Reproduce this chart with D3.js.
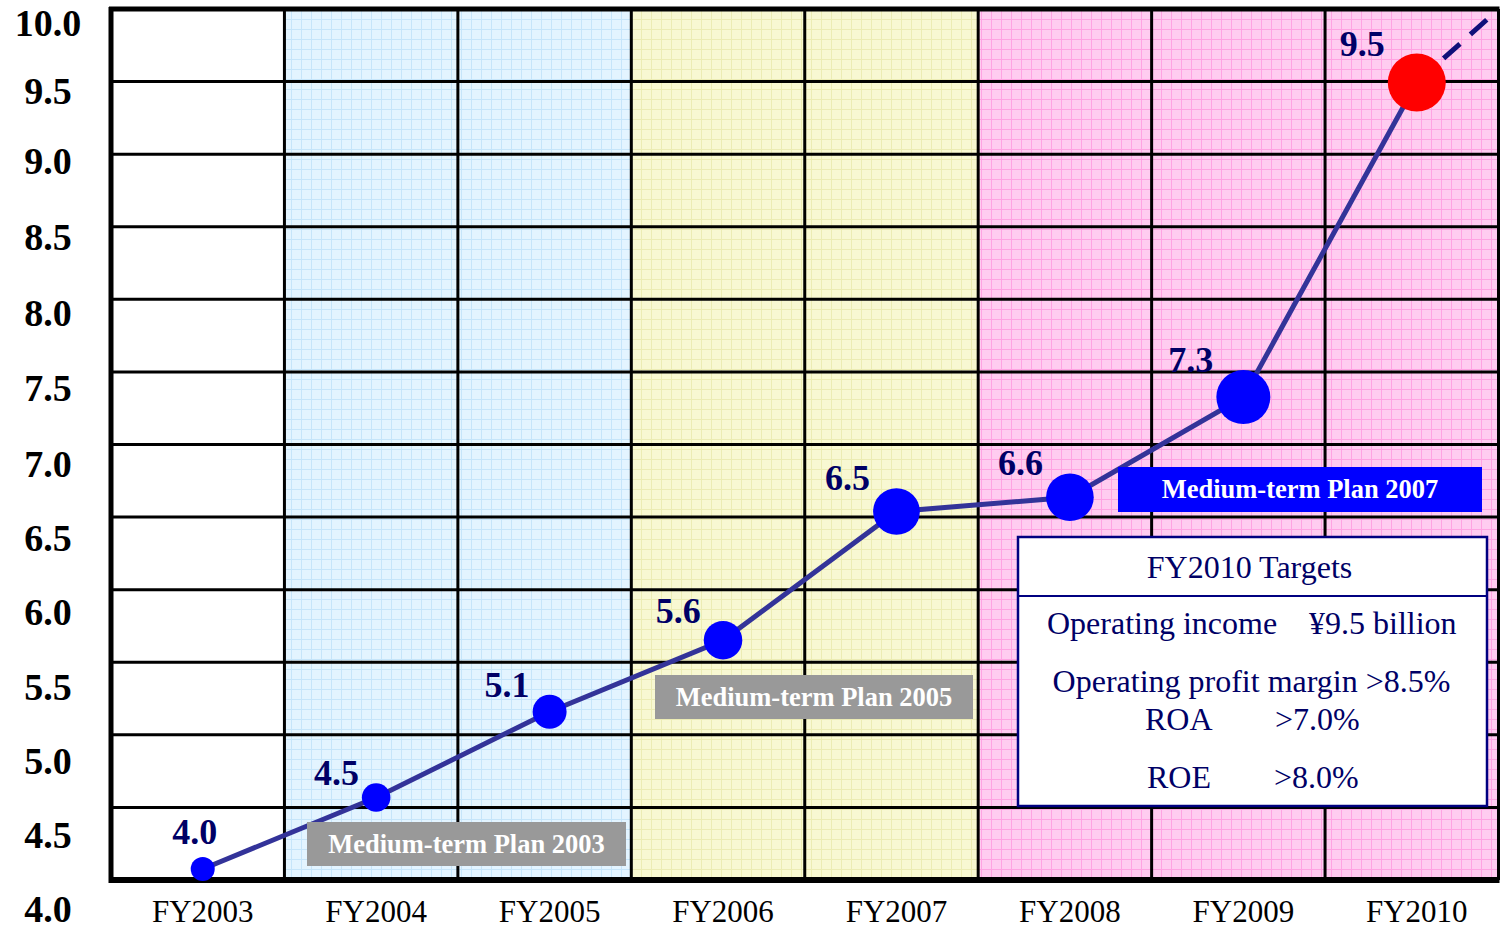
<!DOCTYPE html>
<html>
<head>
<meta charset="utf-8">
<script src="https://cdn.jsdelivr.net/npm/d3@7"></script>
<style>
  body { margin: 0; background: #fff; }
  svg { display: block; font-family: 'Liberation Serif', 'Times New Roman', serif; }
</style>
</head>
<body>
<svg id="chart"></svg>
<script>
// Data (operating income, billions of yen)
const years = ['FY2003', 'FY2004', 'FY2005', 'FY2006', 'FY2007', 'FY2008', 'FY2009', 'FY2010'];
const income = [4.0, 4.5, 5.1, 5.6, 6.5, 6.6, 7.3, 9.5];
const yTickValues = [4.0, 4.5, 5.0, 5.5, 6.0, 6.5, 7.0, 7.5, 8.0, 8.5, 9.0, 9.5, 10.0];
const trendEnd = 10.0;

const planNames = ['Medium-term Plan 2003', 'Medium-term Plan 2005', 'Medium-term Plan 2007'];
const planStart = ['FY2004', 'FY2006', 'FY2008'];
const planEnd = ['FY2005', 'FY2007', 'FY2010'];

const targetTitle = 'FY2010 Targets';
const targetItems = ['Operating income', 'Operating profit margin', 'ROA', 'ROE'];
const targetValues = ['¥9.5 billion', '>8.5%', '>7.0%', '>8.0%'];

// Layout
const width = 1500, height = 929;
const plot = {left: 111, right: 1498.5, top: 9, bottom: 880};
const navy = '#000066';

const svg = d3.select('#chart')
    .attr('width', width)
    .attr('height', height);

// Scales
const x = d3.scaleBand().domain(years).range([plot.left, plot.right]);
const yGrid = d3.scaleLinear().domain([4, 10]).range([plot.bottom, plot.top]);
const yValue = d3.scaleLinear().domain([4, 10]).range([869, 11]);
// the tick labels in the original are typed text, not quite evenly spaced
const yLabel = d3.scaleLinear().domain([4, 7, 9, 9.5, 10]).range([922, 477, 174, 104, 36]);
const rScale = d3.scaleLinear().domain([4, 7.3, 9.5]).range([12, 27, 29]);
const cx = d => x(d) + x.bandwidth() / 2 + 5;

// Background patterns for each plan period
const patColors = [
  {bg: '#e3f4ff', line: '#c6e5fa'},
  {bg: '#f8f8d2', line: '#ececb4'},
  {bg: '#ffccf0', line: '#ffa3e2'}
];
const defs = svg.append('defs');
patColors.forEach((c, i) => {
  const p = defs.append('pattern')
      .attr('id', 'pat' + i)
      .attr('patternUnits', 'userSpaceOnUse')
      .attr('width', 10).attr('height', 10)
      .attr('x', plot.left).attr('y', plot.top);
  p.append('rect').attr('width', 10).attr('height', 10).attr('fill', c.bg);
  p.append('path').attr('d', 'M0,0.5H10M0.5,0V10')
      .attr('stroke', c.line).attr('stroke-width', 1).attr('fill', 'none');
});

svg.append('rect')
    .attr('x', plot.left).attr('y', plot.top)
    .attr('width', plot.right - plot.left).attr('height', plot.bottom - plot.top)
    .attr('fill', '#fff');

svg.selectAll('.period')
    .data(planNames)
  .join('rect')
    .attr('class', 'period')
    .attr('x', (d, i) => x(planStart[i]))
    .attr('y', plot.top)
    .attr('width', (d, i) => x(planEnd[i]) + x.bandwidth() - x(planStart[i]))
    .attr('height', plot.bottom - plot.top)
    .attr('fill', (d, i) => `url(#pat${i})`);

// Grid lines
svg.selectAll('.vgrid')
    .data(years.slice(1))
  .join('line')
    .attr('class', 'vgrid')
    .attr('x1', d => x(d)).attr('x2', d => x(d))
    .attr('y1', plot.top).attr('y2', plot.bottom)
    .attr('stroke', '#000').attr('stroke-width', 3);

svg.selectAll('.hgrid')
    .data(yTickValues.slice(1, -1))
  .join('line')
    .attr('class', 'hgrid')
    .attr('x1', plot.left).attr('x2', plot.right)
    .attr('y1', d => yGrid(d)).attr('y2', d => yGrid(d))
    .attr('stroke', '#000').attr('stroke-width', 3);

// Frame
const frame = svg.append('g').attr('stroke', '#000');
frame.append('line').attr('x1', plot.left - 2).attr('x2', plot.right + 1)
    .attr('y1', plot.top).attr('y2', plot.top).attr('stroke-width', 5);
frame.append('line').attr('x1', plot.left).attr('x2', plot.left)
    .attr('y1', plot.top - 2).attr('y2', plot.bottom + 3).attr('stroke-width', 5);
frame.append('line').attr('x1', plot.right).attr('x2', plot.right)
    .attr('y1', plot.top).attr('y2', plot.bottom).attr('stroke-width', 3);
frame.append('line').attr('x1', plot.left - 2).attr('x2', plot.right + 1)
    .attr('y1', plot.bottom).attr('y2', plot.bottom).attr('stroke-width', 6);

// Y axis labels
svg.selectAll('.ylab')
    .data(yTickValues)
  .join('text')
    .attr('class', 'ylab')
    .attr('x', 48)
    .attr('y', d => yLabel(d))
    .attr('text-anchor', 'middle')
    .attr('font-size', 38)
    .attr('font-weight', 'bold')
    .attr('fill', '#000')
    .text(d => d.toFixed(1));

// X axis labels
svg.selectAll('.xlab')
    .data(years)
  .join('text')
    .attr('class', 'xlab')
    .attr('x', d => cx(d))
    .attr('y', 922)
    .attr('text-anchor', 'middle')
    .attr('font-size', 31)
    .attr('fill', '#000')
    .text(d => d);

// Line
const line = d3.line()
    .x((d, i) => cx(years[i]))
    .y(d => yValue(d));

svg.append('path')
    .datum(income)
    .attr('d', line)
    .attr('fill', 'none')
    .attr('stroke', '#333399')
    .attr('stroke-width', 5);

// Dashed projection beyond FY2010
const last = income.length - 1;
svg.append('line')
    .attr('x1', cx(years[last])).attr('y1', yValue(income[last]))
    .attr('x2', plot.right - 2).attr('y2', yValue(trendEnd))
    .attr('stroke', '#10107a')
    .attr('stroke-width', 5)
    .attr('stroke-dasharray', '22,14');

// Plan label boxes
const planBoxes = [
  {x0: 307, x1: 626, y: 822, h: 44, fill: '#999999'},
  {x0: 655, x1: 973, y: 675, h: 44, fill: '#999999'},
  {x0: 1118, x1: 1482, y: 467, h: 45, fill: '#0000ff'}
];
const pg = svg.selectAll('.plan')
    .data(planNames)
  .join('g')
    .attr('class', 'plan');
pg.append('rect')
    .attr('x', (d, i) => planBoxes[i].x0)
    .attr('y', (d, i) => planBoxes[i].y)
    .attr('width', (d, i) => planBoxes[i].x1 - planBoxes[i].x0)
    .attr('height', (d, i) => planBoxes[i].h)
    .attr('fill', (d, i) => planBoxes[i].fill);
pg.append('text')
    .attr('x', (d, i) => (planBoxes[i].x0 + planBoxes[i].x1) / 2)
    .attr('y', (d, i) => planBoxes[i].y + 31)
    .attr('text-anchor', 'middle')
    .attr('font-size', 26.5)
    .attr('font-weight', 'bold')
    .attr('fill', '#fff')
    .text(d => d);

// Points
svg.selectAll('.point')
    .data(income)
  .join('circle')
    .attr('class', 'point')
    .attr('cx', (d, i) => cx(years[i]))
    .attr('cy', d => yValue(d))
    .attr('r', d => rScale(d))
    .attr('fill', (d, i) => i === last ? '#ff0000' : '#0000ff');

// Value labels
svg.selectAll('.vlab')
    .data(income)
  .join('text')
    .attr('class', 'vlab')
    .attr('x', (d, i) => i === 0 ? cx(years[i]) - 8 : cx(years[i]) - rScale(d) - 3)
    .attr('y', (d, i) => i === 0 ? yValue(d) - rScale(d) - 13 : yValue(d) - rScale(d) + 2)
    .attr('text-anchor', (d, i) => i === 0 ? 'middle' : 'end')
    .attr('font-size', 36)
    .attr('font-weight', 'bold')
    .attr('fill', navy)
    .text(d => d.toFixed(1));

// Targets box
const tb = {x: 1018, y: 537, w: 469, h: 269, divider: 59};
const tg = svg.append('g').attr('transform', `translate(${tb.x},${tb.y})`);
tg.append('rect')
    .attr('width', tb.w).attr('height', tb.h)
    .attr('fill', '#fff').attr('stroke', '#000080').attr('stroke-width', 2.5);
tg.append('line')
    .attr('x1', 0).attr('x2', tb.w)
    .attr('y1', tb.divider).attr('y2', tb.divider)
    .attr('stroke', '#000080').attr('stroke-width', 2);
tg.append('text')
    .attr('x', tb.w / 2 - 3).attr('y', 41)
    .attr('text-anchor', 'middle')
    .attr('font-size', 32).attr('fill', navy)
    .text(targetTitle);

const rows = [
  {y: 97, x1: 29, x2: 291},
  {y: 155, center: true},
  {y: 193, x1: 127, x2: 257},
  {y: 251, x1: 129, x2: 256}
];
targetItems.forEach((item, i) => {
  const row = rows[i];
  if (row.center) {
    tg.append('text')
        .attr('x', tb.w / 2 - 1).attr('y', row.y)
        .attr('text-anchor', 'middle')
        .attr('font-size', 32).attr('fill', navy)
        .text(item + ' ' + targetValues[i]);
  } else {
    tg.append('text')
        .attr('x', row.x1).attr('y', row.y)
        .attr('font-size', 32).attr('fill', navy)
        .text(item);
    tg.append('text')
        .attr('x', row.x2).attr('y', row.y)
        .attr('font-size', 32).attr('fill', navy)
        .text(targetValues[i]);
  }
});
</script>
</body>
</html>
